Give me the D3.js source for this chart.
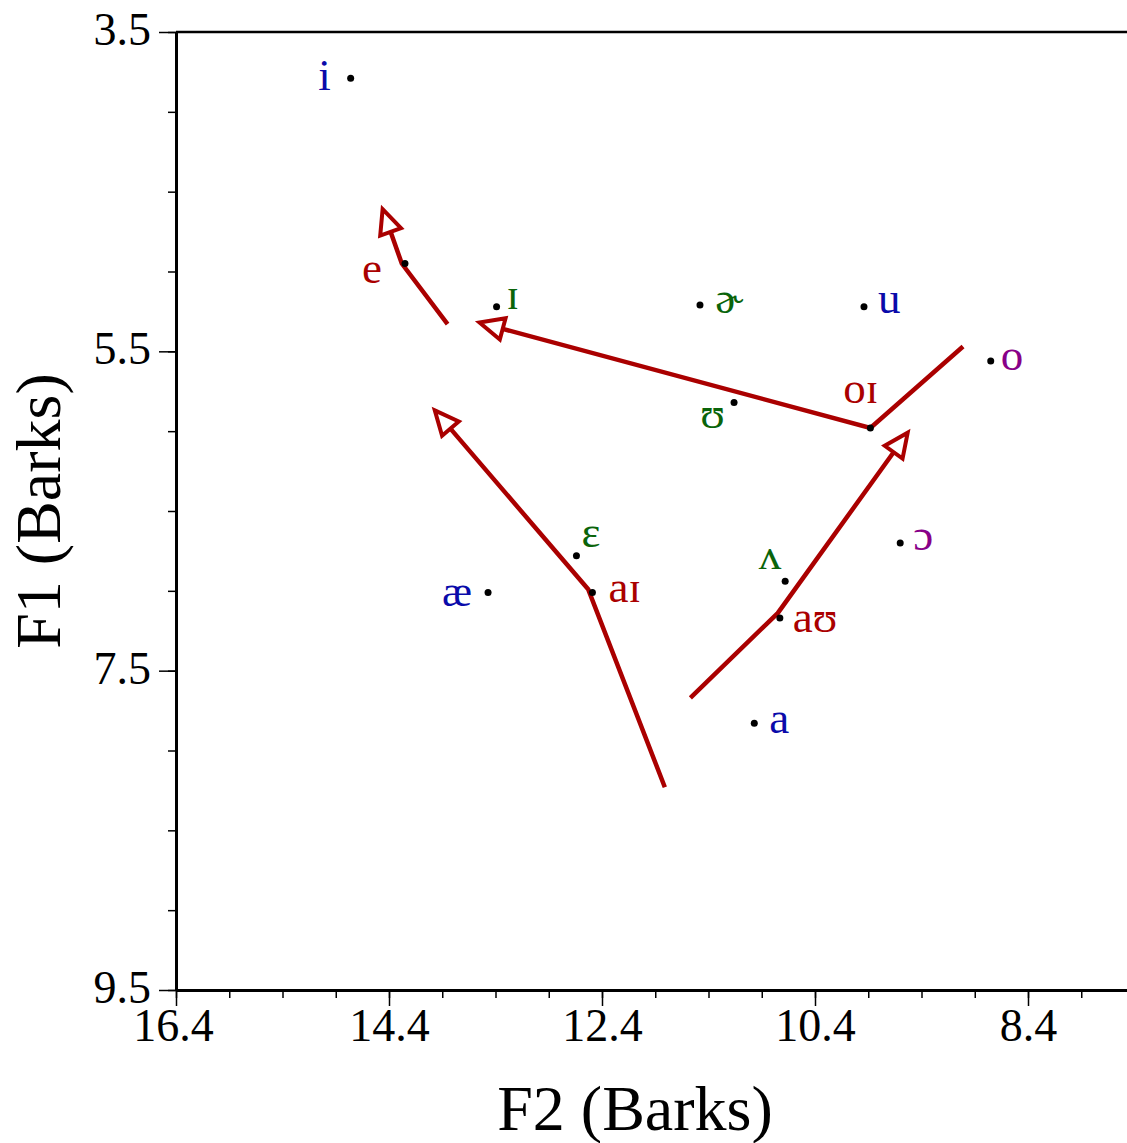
<!DOCTYPE html>
<html>
<head>
<meta charset="utf-8">
<script src="https://cdn.jsdelivr.net/npm/d3@7"></script>
<style>
  body { margin: 0; background: #fff; }
  text { font-family: "Liberation Serif", "Times New Roman", serif; }
</style>
</head>
<body>
<div id="chart"></div>
<script>

// Vowel points (F2, F1 in Barks)
let vowels = ["i", "e", "ɪ", "ɚ", "u", "o", "ʊ", "oɪ", "ɛ", "aɪ", "æ", "ʌ", "aʊ", "ɔ", "a"];
let f2 = [14.76, 14.25, 13.39, 11.48, 9.94, 8.75, 11.16, 9.88, 12.64, 12.49, 13.47, 10.68, 10.73, 9.60, 10.97];
let f1 = [3.79, 4.95, 5.22, 5.21, 5.22, 5.56, 5.82, 5.98, 6.78, 7.01, 7.01, 6.94, 7.17, 6.70, 7.83];
let kind = ["tense", "diphthong", "lax", "lax", "tense", "round", "lax", "diphthong", "lax", "diphthong", "tense", "lax", "diphthong", "round", "tense"];

// Diphthong trajectories: start, middle, end
let glides = ["e", "oɪ", "aɪ", "aʊ"];
let glideF2 = [[13.85, 14.28, 14.46], [9.01, 9.88, 13.55], [11.81, 12.53, 13.97], [11.57, 10.75, 9.53]];
let glideF1 = [[5.33, 4.95, 4.61], [5.47, 5.98, 5.32], [8.23, 6.99, 5.87], [7.67, 7.14, 6.01]];

// Axis ticks
let xMajor = [16.4, 14.4, 12.4, 10.4, 8.4];
let xMinor = d3.range(0, 18).map(i => 16.4 - i * 0.5);
let yMajor = [3.5, 5.5, 7.5, 9.5];
let yMinor = d3.range(0, 13).map(i => 3.5 + i * 0.5);

function vowelChart(width, height, selector) {

  let colors = { tense: "#0a0aaa", diphthong: "#aa0000", lax: "#0a640a", round: "#880088" };

  // label placement relative to the dot: [dx, dy, anchor]
  let place = {
    "i": [-20, 12, "end"], "e": [-23, 19, "end"], "ɪ": [10, 2, "start"],
    "ɚ": [15, 8, "start"], "u": [14, 6, "start"], "o": [10, 9, "start"],
    "ʊ": [-9, 26, "end"], "oɪ": [8, -25, "end"], "ɛ": [5, -9, "start"],
    "aɪ": [16, 10, "start"], "æ": [-16, 14, "end"], "ʌ": [-4, -12, "end"],
    "aʊ": [13, 14, "start"], "ɔ": [13, 7, "start"], "a": [15, 10, "start"]
  };

  let points = vowels.map((v, i) => ({ v: v, f2: f2[i], f1: f1[i], kind: kind[i] }));

  let x = d3.scaleLinear().domain([16.4, 7.4]).range([176, 1134.5]);
  let y = d3.scaleLinear().domain([3.5, 9.5]).range([32, 990]);

  let svg = d3.select(selector)
    .append("svg")
    .attr("width", width)
    .attr("height", height);

  //////////////
  /// Axes ///
  //////////////

  svg.append("line")
    .attr("x1", x(16.4)).attr("x2", width)
    .attr("y1", y(3.5)).attr("y2", y(3.5))
    .attr("stroke", "#000").attr("stroke-width", 2.5);

  let yMinorAxis = svg.append("g")
    .attr("transform", `translate(${x(16.4)},0)`)
    .call(d3.axisLeft(y).tickValues(yMinor).tickSize(8).tickSizeOuter(0).tickFormat(""));
  let yAxis = svg.append("g")
    .attr("transform", `translate(${x(16.4)},0)`)
    .call(d3.axisLeft(y).tickValues(yMajor).tickSize(17).tickSizeOuter(0).tickPadding(8).tickFormat(d3.format(".1f")));

  let xMinorAxis = svg.append("g")
    .attr("transform", `translate(0,${y(9.5)})`)
    .call(d3.axisBottom(x).tickValues(xMinor).tickSize(8).tickSizeOuter(0).tickFormat(""));
  let xAxis = svg.append("g")
    .attr("transform", `translate(0,${y(9.5)})`)
    .call(d3.axisBottom(x).tickValues(xMajor).tickSize(16).tickSizeOuter(0).tickPadding(2).tickFormat(d3.format(".1f")));

  [yMinorAxis, yAxis, xMinorAxis, xAxis].forEach(g => {
    g.select(".domain").attr("stroke", "#000").attr("stroke-width", 3);
    g.selectAll(".tick line").attr("stroke", "#000").attr("stroke-width", 1.5);
    g.selectAll(".tick text")
      .attr("fill", "#000")
      .style("font-family", "'Liberation Serif', 'Times New Roman', serif")
      .style("font-size", "46px");
  });
  yAxis.selectAll(".tick text").attr("dy", "0.27em");
  xAxis.selectAll(".tick text").filter(d => d === 16.4).attr("dx", -3);

  svg.append("text")
    .attr("x", 635).attr("y", 1130)
    .attr("text-anchor", "middle")
    .style("font-size", "64px")
    .text("F2 (Barks)");

  svg.append("text")
    .attr("transform", `translate(60,${(y(3.5) + y(9.5)) / 2}) rotate(-90)`)
    .attr("text-anchor", "middle")
    .style("font-size", "64px")
    .text("F1 (Barks)");

  ///////////////////
  /// Diphthongs ///
  ///////////////////

  let headLen = 24, headHalf = 11;

  glides.forEach((g, i) => {
    let pts = glideF2[i].map((d, j) => [x(d), y(glideF1[i][j])]);
    let tip = pts[2], mid = pts[1];
    let dx = tip[0] - mid[0], dy = tip[1] - mid[1];
    let len = Math.sqrt(dx * dx + dy * dy);
    let ux = dx / len, uy = dy / len;
    let back = [tip[0] - ux * headLen, tip[1] - uy * headLen];

    svg.append("path")
      .attr("d", d3.line()([pts[0], pts[1], back]))
      .attr("fill", "none")
      .attr("stroke", colors.diphthong)
      .attr("stroke-width", 4.5)
      .attr("stroke-linejoin", "miter");

    let head = [
      tip,
      [back[0] - uy * headHalf, back[1] + ux * headHalf],
      [back[0] + uy * headHalf, back[1] - ux * headHalf]
    ];
    svg.append("polygon")
      .attr("points", head.map(p => p.join(",")).join(" "))
      .attr("fill", "#fff")
      .attr("stroke", colors.diphthong)
      .attr("stroke-width", 4)
      .attr("stroke-linejoin", "miter");
  });

  //////////////
  /// Points ///
  //////////////

  svg.selectAll(".dot")
    .data(points)
    .join("circle")
    .attr("class", "dot")
    .attr("cx", d => x(d.f2))
    .attr("cy", d => y(d.f1))
    .attr("r", 3.5)
    .attr("fill", "#000");

  svg.selectAll(".vlabel")
    .data(points)
    .join("text")
    .attr("class", "vlabel")
    .attr("x", d => x(d.f2) + place[d.v][0])
    .attr("y", d => y(d.f1) + place[d.v][1])
    .attr("text-anchor", d => place[d.v][2])
    .attr("fill", d => colors[d.kind])
    .style("font-size", "45px")
    .text(d => d.v);
}

vowelChart(1127, 1143, "#chart");
</script>
</body>
</html>
